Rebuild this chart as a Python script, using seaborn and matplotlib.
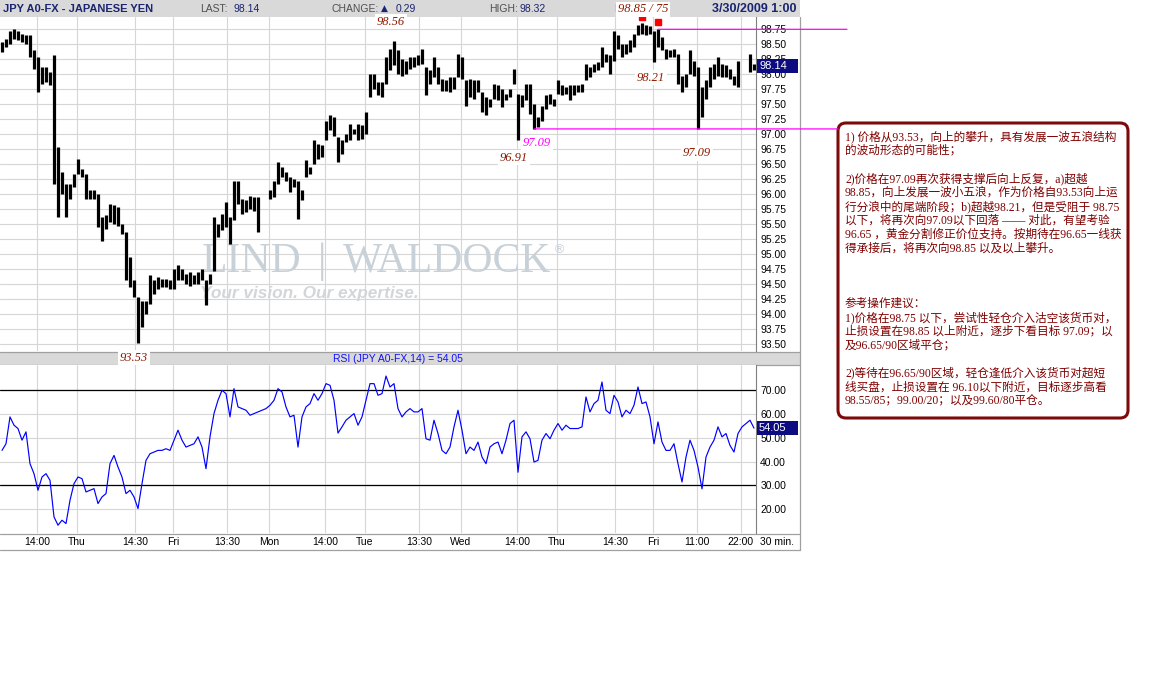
import numpy as np
import matplotlib
matplotlib.use("Agg")
import matplotlib.pyplot as plt
import seaborn as sns
from matplotlib.patches import Rectangle, FancyBboxPatch, ConnectionPatch
from matplotlib.transforms import blended_transform_factory
from matplotlib.ticker import MultipleLocator, FormatStrFormatter

nan = np.nan

# Hourly high / low of JPY A0-FX
price_high = [
    98.54, 98.59, 98.73, 98.76, 98.73, 98.68, 98.65, 98.65, 98.40, 98.29,
    98.12, 98.12, 98.04, 98.32, 96.79, 96.37, 96.18, 96.18, 96.34, 96.59,
    96.43, 96.34, 96.07, 96.07, 96.01, 95.62, 95.65, 95.84, 95.82, 95.79,
    95.51, 95.37, 94.96, 94.57, 94.29, 94.23, 94.23, 94.65, 94.57, 94.62,
    94.59, 94.59, 94.57, 94.76, 94.82, 94.76, 94.68, 94.70, 94.65, 94.70,
    94.76, 94.57, 94.68, 95.62, 95.51, 95.68, 95.87, 95.62, 96.23, 96.23,
    95.93, 95.90, 95.98, 95.96, 95.96, nan, nan, 96.07, 96.23, 96.54,
    96.45, 96.37, 96.29, 96.26, 96.23, 96.07, 96.57, 96.45, 96.90, 96.84,
    96.82, 97.23, 97.32, 97.29, 96.96, 96.90, 97.01, 97.18, 97.09, 97.18,
    97.15, 97.37, 98.01, 98.01, 97.87, 97.87, 98.29, 98.43, 98.56, 98.40,
    98.26, 98.23, 98.29, 98.29, 98.32, 98.43, 98.12, 98.07, 98.29, 98.12,
    97.93, 97.90, 97.96, 97.96, 98.34, 98.29, 97.90, 97.93, 97.90, 97.90,
    97.71, 97.62, 97.59, 97.84, 97.82, 97.76, 97.68, 97.76, 98.09, 97.68,
    97.65, 97.84, 97.84, 97.51, 97.29, 97.48, 97.65, 97.68, 97.59, 97.90,
    97.82, 97.79, 97.82, 97.82, 97.82, 97.84, 98.18, 98.12, 98.18, 98.21,
    98.46, 98.34, 98.32, 98.73, 98.65, 98.51, 98.51, 98.57, 98.68, 98.82,
    98.85, 98.83, 98.80, 98.73, 98.76, 98.62, 98.43, 98.40, 98.43, 98.34,
    97.98, 98.01, 98.40, 98.23, 98.12, 97.79, 97.90, 98.12, 98.18, 98.29,
    98.18, 98.15, 98.09, 97.98, 98.23, nan, nan, 98.34, 98.18,
]
price_low = [
    98.37, 98.46, 98.51, 98.59, 98.57, 98.54, 98.51, 98.29, 98.09, 97.71,
    97.84, 97.87, 97.82, 96.18, 95.62, 96.01, 95.62, 95.93, 96.12, 96.34,
    96.29, 95.93, 95.93, 95.93, 95.46, 95.23, 95.43, 95.54, 95.51, 95.48,
    95.34, 94.57, 94.46, 94.29, 93.53, 93.79, 94.01, 94.18, 94.34, 94.43,
    94.46, 94.46, 94.43, 94.43, 94.57, 94.57, 94.51, 94.48, 94.51, 94.51,
    94.57, 94.15, 94.51, 94.73, 95.29, 95.40, 95.46, 95.18, 95.57, 95.84,
    95.68, 95.71, 95.76, 95.73, 95.37, nan, nan, 95.93, 95.96, 96.18,
    96.29, 96.23, 96.04, 96.12, 95.59, 95.90, 96.29, 96.34, 96.51, 96.59,
    96.62, 96.90, 97.07, 96.98, 96.54, 96.68, 96.87, 96.90, 97.01, 96.90,
    96.93, 97.01, 97.62, 97.76, 97.65, 97.62, 97.84, 98.07, 98.15, 98.01,
    97.98, 98.01, 98.09, 98.12, 98.15, 98.18, 97.65, 97.84, 97.96, 97.84,
    97.73, 97.73, 97.71, 97.76, 97.96, 97.93, 97.48, 97.62, 97.59, 97.71,
    97.37, 97.32, 97.46, 97.59, 97.57, 97.46, 97.57, 97.62, 97.84, 96.91,
    97.46, 97.57, 97.34, 97.09, 97.12, 97.23, 97.43, 97.51, 97.48, 97.68,
    97.65, 97.68, 97.57, 97.65, 97.71, 97.71, 97.90, 97.96, 98.04, 98.07,
    98.12, 98.20, 98.01, 98.23, 98.43, 98.29, 98.34, 98.37, 98.46, 98.65,
    98.68, 98.65, 98.68, 98.21, 98.46, 98.40, 98.26, 98.29, 98.29, 97.84,
    97.71, 97.79, 98.01, 97.98, 97.09, 97.29, 97.59, 97.79, 97.93, 97.98,
    97.96, 97.96, 97.93, 97.82, 97.79, nan, nan, 98.04, 98.07,
]
# RSI(14) of the same bars
rsi = [
    44.7, 47.5, 58.8, 55.3, 53.9, 49.0, 52.5, 39.1, 34.9, 27.9,
    33.5, 34.9, 32.1, 16.7, 13.2, 15.3, 13.9, 23.7, 30.7, 33.5,
    32.8, 27.2, 27.9, 28.6, 22.3, 25.1, 26.5, 39.1, 42.6, 37.7,
    33.5, 26.5, 27.9, 25.1, 20.2, 30.7, 40.5, 43.3, 44.0, 44.7,
    44.7, 45.4, 44.7, 49.0, 53.2, 49.0, 46.1, 46.8, 47.5, 50.4,
    46.1, 37.0, 50.4, 60.2, 65.8, 70.0, 68.6, 58.8, 70.7, 63.0,
    62.3, 61.6, 59.5, 60.2, 60.9, 61.6, 62.3, 63.7, 65.8, 70.7,
    69.3, 63.0, 58.8, 59.5, 46.1, 58.8, 63.0, 64.4, 68.6, 65.8,
    68.6, 72.8, 72.1, 65.8, 52.0, 54.6, 57.4, 58.8, 60.2, 55.3,
    58.8, 65.8, 72.8, 72.8, 67.9, 68.6, 76.0, 71.4, 72.8, 62.3,
    58.8, 60.9, 62.3, 60.9, 60.9, 62.3, 49.6, 49.0, 57.4, 51.8,
    44.7, 43.3, 46.1, 54.6, 61.6, 53.2, 43.3, 46.1, 44.7, 48.2,
    41.9, 39.1, 46.1, 47.5, 48.2, 43.3, 49.0, 56.0, 57.4, 35.5,
    50.4, 52.5, 49.6, 39.8, 40.5, 49.0, 51.8, 49.6, 53.2, 56.0,
    53.2, 55.3, 53.9, 53.9, 53.9, 54.6, 67.2, 60.9, 64.4, 65.8,
    73.5, 61.6, 60.2, 67.9, 65.1, 58.8, 61.6, 60.2, 63.7, 71.4,
    64.4, 65.1, 58.8, 47.5, 56.7, 48.2, 44.7, 44.7, 47.5, 39.1,
    31.4, 41.9, 49.0, 44.7, 37.7, 28.5, 41.9, 46.1, 49.0, 54.6,
    50.4, 51.8, 46.8, 44.0, 51.8, 54.6, 56.0, 57.4, 54.05,
]

# Time axis: first midnight (Thu) sits 18.75 bars in; (day, hour, label)
first_midnight = 18.75
time_ticks = [(-1, 14, "14:00"), (0, 0, "Thu"), (0, 14.5, "14:30"), (1, 0, "Fri"),
              (1, 13.5, "13:30"), (2, 0, "Mon"), (2, 14, "14:00"), (3, 0, "Tue"),
              (3, 13.5, "13:30"), (4, 0, "Wed"), (4, 14, "14:00"), (5, 0, "Thu"),
              (5, 14.5, "14:30"), (6, 0, "Fri"), (6, 11, "11:00"), (6, 22, "22:00")]

last_price = 98.14
change = 0.29
day_high = 98.32
resistance = 98.75

note_lines = [
    "1) 价格从93.53，向上的攀升，具有发展一波五浪结构",
    "的波动形态的可能性；",
    "",
    "2)价格在97.09再次获得支撑后向上反复，a)超越",
    "98.85，向上发展一波小五浪，作为价格自93.53向上运",
    "行分浪中的尾端阶段；b)超越98.21，但是受阻于 98.75",
    "以下，将再次向97.09以下回落 —— 对此，有望考验",
    "96.65 ，黄金分割修正价位支持。按期待在96.65一线获",
    "得承接后，将再次向98.85 以及以上攀升。",
    "", "", "",
    "参考操作建议：",
    "1)价格在98.75 以下，尝试性轻仓介入沽空该货币对，",
    "止损设置在98.85 以上附近，逐步下看目标 97.09；以",
    "及96.65/90区域平仓；",
    "",
    "2)等待在96.65/90区域，轻仓逢低介入该货币对超短",
    "线买盘，止损设置在 96.10以下附近，目标逐步高看",
    "98.55/85；99.00/20；以及99.60/80平仓。",
]

sns.set_theme(style="white")
plt.rcParams['font.family'] = ['Liberation Sans', 'Noto Sans CJK SC', 'DejaVu Sans']

price_high = np.array(price_high, dtype=float)
price_low = np.array(price_low, dtype=float)
rsi = np.array(rsi, dtype=float)
bars = np.arange(len(price_high))

W, H = 1149, 681
fig = plt.figure(figsize=(W / 100, H / 100), dpi=100)
fig.patch.set_facecolor('white')


def frac(x0, y0, x1, y1):
    return [x0 / W, 1 - y1 / H, (x1 - x0) / W, (y1 - y0) / H]


NAVY = '#1a2470'
GRID = '#d6d6d6'
BAR_BG = '#d9d9d9'
EDGE = '#a0a0a0'
NOTE_RED = '#800000'

# pixel-space canvas for the frame, header and note box
bg = fig.add_axes([0, 0, 1, 1])
bg.set_xlim(0, W)
bg.set_ylim(H, 0)
bg.axis('off')
bg.set_zorder(0)

ax_p = fig.add_axes(frac(0, 17, 756, 351))
ax_r = fig.add_axes(frac(0, 365, 756, 533))
for ax in (ax_p, ax_r):
    ax.set_zorder(1)
    ax.set_facecolor('white')

# ---- price panel ----
ax_p.vlines(bars, price_low, price_high, color='black', lw=2.3, zorder=3)
p_lim = (93.39, 98.955)
ax_p.set_ylim(*p_lim)

# ---- RSI panel ----
sns.lineplot(x=bars, y=rsi, ax=ax_r, color='#0000ff', lw=0.85, zorder=3)
ax_r.axhline(70, color='black', lw=0.9, zorder=2)
ax_r.axhline(30, color='black', lw=0.9, zorder=2)
r_lim = (9.92, 80.65)
ax_r.set_ylim(*r_lim)
ax_r.set_xlabel('')
ax_r.set_ylabel('')

tick_pos = [first_midnight + 24 * d + h for d, h, _ in time_ticks]
tick_lab = [lab for _, _, lab in time_ticks]

for ax in (ax_p, ax_r):
    ax.set_xlim(-0.5, len(bars) - 0.5)
    ax.set_xticks(tick_pos)
    ax.grid(True, color=GRID, lw=0.8)
    ax.set_axisbelow(True)
    for s in ('left', 'top', 'bottom'):
        ax.spines[s].set_visible(False)
    ax.spines['right'].set_color('#7f7f7f')
    ax.spines['right'].set_linewidth(0.8)
    ax.yaxis.tick_right()
    ax.tick_params(axis='y', length=0, pad=3, labelsize=7.5, colors='black')
    ax.yaxis.set_major_formatter(FormatStrFormatter('%.2f'))

ax_p.yaxis.set_major_locator(MultipleLocator(0.25))
ax_p.tick_params(axis='x', length=0, labelbottom=False)
ax_r.set_yticks([20, 30, 40, 50, 60, 70])
ax_r.set_xticklabels(tick_lab)
ax_r.tick_params(axis='x', length=0, pad=3, labelsize=7.5, colors='black')

# ---- watermark ----
wm = dict(transform=bg.transData, family='Liberation Serif', color='#c9d1d8',
          fontsize=30, va='baseline', zorder=1)
ax_p.text(202, 272, 'LIND', ha='left', **wm)
ax_p.text(322, 272, '|', ha='center', **wm)
ax_p.text(343, 272, 'WALDOCK', ha='left', **wm)
ax_p.text(559, 250, '®', ha='center', va='center', transform=bg.transData,
          color='#c9d1d8', fontsize=9, zorder=1)
ax_p.text(200, 298, 'Your vision. Our expertise.', transform=bg.transData,
          ha='left', va='baseline', fontsize=12.4, style='italic', fontweight='bold',
          color='#d3d6d9', zorder=1)

# ---- pivot markers and level lines ----
for i in (160, 164):
    ax_p.plot(i, price_high[i] + 0.11, marker='s', ms=4.3, color='#ff0000',
              mec='#ff0000', zorder=4)

px_x = blended_transform_factory(bg.transData, ax_p.transData)
for x0, y0, x_end in ((164, resistance, 847), (133, price_low[133], 838)):
    cp = ConnectionPatch(xyA=(x0, y0), coordsA=ax_p.transData,
                         xyB=(x_end, y0), coordsB=px_x,
                         color='#ff00ff', lw=0.9, zorder=5)
    fig.add_artist(cp)


def mark_label(text, i, y, dx, dy, color='#8b1a00'):
    ax_p.annotate(text, xy=(i, y), xytext=(dx, dy), textcoords='offset pixels',
                  ha='center', va='center', fontsize=9, family='Liberation Serif',
                  style='italic', color=color, annotation_clip=False, zorder=6,
                  bbox=dict(fc='white', ec='none', pad=1.2))


mark_label(f"{price_high[98]:.2f}", 98, price_high[98], -3, 19)
mark_label(f"{price_high[160]:.2f} / 75", 160, price_high[160], 1, 14)
mark_label(f"{price_low[163]:.2f}", 163, price_low[163], -3, -16)
mark_label(f"{price_low[133]:.2f}", 133, price_low[133], 3, -14, color='#ff00ff')
mark_label(f"{price_low[129]:.2f}", 129, price_low[129], -4, -18)
mark_label(f"{price_low[174]:.2f}", 174, price_low[174], -1, -24)
mark_label(f"{price_low[34]:.2f}", 34, price_low[34], -4, -15.5)


# ---- value boxes on the right scales ----
def value_box(ax, value, lim, ax_h_px):
    per_px = (lim[1] - lim[0]) / ax_h_px
    tr = blended_transform_factory(bg.transData, ax.transData)
    ax.add_patch(Rectangle((757, value - 7 * per_px), 41, 14 * per_px,
                           transform=tr, fc='#0c0c80', ec='none',
                           clip_on=False, zorder=6))
    ax.text(759, value, f"{value:.2f}", transform=tr, ha='left', va='center',
            color='white', fontsize=8, zorder=7, clip_on=False)


value_box(ax_p, last_price, p_lim, 334)
value_box(ax_r, rsi[-1], r_lim, 168)

# ---- frame: header, separators, borders ----
bg.add_patch(Rectangle((0, 0), 800, 17, fc=BAR_BG, ec='none'))
bg.add_patch(Rectangle((0, 351.5), 800, 13, fc=BAR_BG, ec='none'))
bg.plot([0, 800], [351.5, 351.5], color=EDGE, lw=0.9)
bg.plot([0, 800], [364.5, 364.5], color=EDGE, lw=0.9)
bg.plot([0, 800], [533.5, 533.5], color=EDGE, lw=0.9)
bg.plot([0, 800], [549.5, 549.5], color=EDGE, lw=0.9)
bg.plot([799.5, 799.5], [17, 549.5], color=EDGE, lw=0.9)

hy = 8.5
bg.text(3, hy, 'JPY A0-FX - JAPANESE YEN', fontsize=8, fontweight='bold',
        color=NAVY, va='center', ha='left')
bg.text(200, hy, 'LAST:', fontsize=7.5, color='#505050', va='center')
bg.text(233, hy, f"{last_price:.2f}", fontsize=7.5, color=NAVY, va='center')
bg.text(332, hy, 'CHANGE:', fontsize=7.5, color='#505050', va='center')
bg.text(381, hy, '▲', fontsize=6.5, color=NAVY, va='center',
        family=['DejaVu Sans'])
bg.text(396, hy, f"{change:.2f}", fontsize=7.5, color=NAVY, va='center')
bg.text(489, hy, 'HIGH:', fontsize=7.5, color='#505050', va='center')
bg.text(520, hy, f"{day_high:.2f}", fontsize=7.5, color=NAVY, va='center')
bg.text(614, hy, 'L', fontsize=7.5, color='#505050', va='center')
bg.text(797, hy, '3/30/2009 1:00', fontsize=9, fontweight='bold', color=NAVY,
        va='center', ha='right')

bg.text(333, 358.5, f"RSI (JPY A0-FX,14) = {rsi[-1]:.2f}", fontsize=7.5,
        color='#1010ff', va='center', ha='left')
bg.text(777, 542, '30 min.', fontsize=7.5, color='black', va='center', ha='center')

# ---- commentary box ----
bg.add_patch(FancyBboxPatch((838, 123), 290, 295,
                            boxstyle='round,pad=0,rounding_size=8',
                            fc='white', ec='#7d0a0a', lw=2.2))
for k, line in enumerate(note_lines):
    if line:
        bg.text(845, 137 + 13.9 * k, line, fontsize=8.4, color=NOTE_RED,
                va='center', ha='left',
                family=['Liberation Serif', 'Noto Sans CJK SC', 'DejaVu Sans'])

fig.savefig('out.png', dpi=100, facecolor='white')
